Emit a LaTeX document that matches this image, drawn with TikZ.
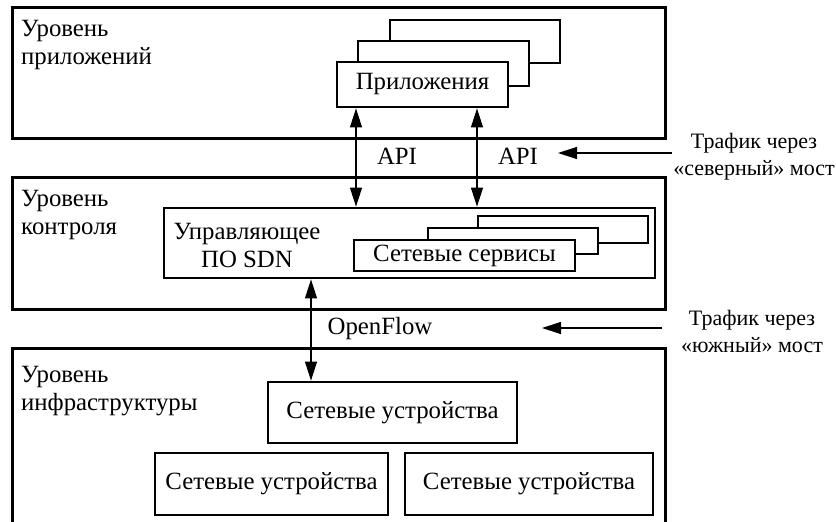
\documentclass[tikz,border=0pt]{standalone}
\usepackage{fontspec}
\setmainfont{Liberation Serif}
\usetikzlibrary{arrows.meta}

\begin{document}
\begin{tikzpicture}[
  x=1pt,
  y=-1pt,
  font=\fontsize{24.8}{28}\selectfont,
  layer/.style={draw, line width=3pt, inner sep=0pt, minimum width=653pt},
  blk/.style={draw, fill=white, line width=2.8pt, inner sep=0pt},
  note/.style={align=center, inner sep=0pt, font=\fontsize{22}{27}\selectfont},
  link/.style={{Triangle[length=19pt,width=12pt]}-{Triangle[length=19pt,width=12pt]}, line width=1.2pt},
  traffic/.style={-{Triangle[length=19pt,width=12pt]}, line width=1.2pt}
]
\clip (0,0) rectangle (836,522);

% layers
\node[layer, minimum height=131pt] (appLayer) at (338.5,72.5) {};
\node[layer, minimum height=132pt] (ctrlLayer) at (338.5,243) {};
\node[layer, minimum height=192pt] (infraLayer) at (338.5,444) {};
\node[anchor=north west, align=left, inner sep=0pt] (appLabel) at (21,20) {Уровень\\приложений};
\node[anchor=north west, align=left, inner sep=0pt] (ctrlLabel) at (21,190) {Уровень\\контроля};
\node[anchor=north west, align=left, inner sep=0pt] (infraLabel) at (21,366) {Уровень\\инфраструктуры};

% applications
\node[blk, minimum width=170pt, minimum height=43pt] (appBack) at (475,41.5) {};
\node[blk, minimum width=171pt, minimum height=45pt] (appMid) at (443.5,63.5) {};
\node[blk, minimum width=171pt, minimum height=45pt] (apps) at (422.5,84.5) {Приложения};

% controller
\node[blk, minimum width=491pt, minimum height=70pt] (ctrl) at (409.5,243) {};
\node[align=center, inner sep=0pt] (ctrlText) at (247,245) {Управляющее\\ПО SDN};
\node[blk, minimum width=170pt, minimum height=27pt] (svcBack) at (563,229.5) {};
\node[blk, minimum width=170pt, minimum height=26pt] (svcMid) at (513,241) {};
\node[blk, minimum width=221pt, minimum height=31pt] (svc) at (464.5,255.5) {Сетевые сервисы};

% devices
\node[blk, minimum width=249pt, minimum height=61pt] (devTop) at (392.5,412.5) {Сетевые устройства};
\node[blk, minimum width=233pt, minimum height=62pt] (devLeft) at (271.5,484) {Сетевые устройства};
\node[blk, minimum width=248pt, minimum height=62pt] (devRight) at (529,484) {Сетевые устройства};

% interfaces
\coordinate (apiL) at (356,0);
\coordinate (apiR) at (477,0);
\coordinate (ofX) at (311,0);
\draw[link] (apps.south -| apiL) -- (ctrl.north -| apiL);
\draw[link] (apps.south -| apiR) -- (ctrl.north -| apiR);
\draw[link] (ctrl.south -| ofX) -- (devTop.north -| ofX);
\node (apiLText) at (397,156) {API};
\node (apiRText) at (518,156) {API};
\node (ofText) at (380,329) {OpenFlow};

% traffic
\node[note] (northText) at (754,157) {Трафик через\\«северный» мост};
\node[note] (southText) at (752,331) {Трафик через\\«южный» мост};
\coordinate (northFrom) at (672,153);
\coordinate (northTo) at (558,153);
\coordinate (southFrom) at (662,328);
\coordinate (southTo) at (542,328);
\draw[traffic] (northFrom) -- (northTo);
\draw[traffic] (southFrom) -- (southTo);
\end{tikzpicture}
\end{document}
